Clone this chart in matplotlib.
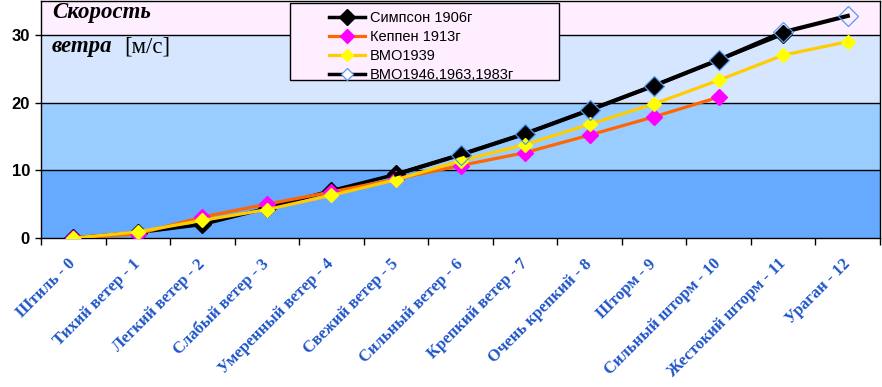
import matplotlib
matplotlib.use("Agg")
import matplotlib.pyplot as plt
from matplotlib.patches import Rectangle
import numpy as np

# --- данные ---
categories = ["Штиль - 0", "Тихий ветер - 1", "Легкий ветер - 2", "Слабый ветер - 3",
              "Умеренный ветер - 4", "Свежий ветер - 5", "Сильный ветер - 6",
              "Крепкий ветер - 7", "Очень крепкий - 8", "Шторм - 9",
              "Сильный шторм - 10", "Жестокий шторм - 11", "Ураган - 12"]

simpson_1906 = [0, 0.8, 2.0, 4.4, 7.0, 9.4, 12.3, 15.4, 18.9, 22.5, 26.3, 30.1]
keppen_1913 = [0, 0.6, 3.1, 5.0, 6.8, 8.7, 10.7, 12.6, 15.2, 17.9, 20.8]
bmo_1939 = [0, 0.9, 2.6, 4.2, 6.3, 8.6, 11.4, 13.8, 16.8, 19.8, 23.3, 27.0, 29.0]
# ВМО1946 совпадает с Симпсоном, на картинке видна с 5 балла
bmo_1946_start = 5
bmo_1946 = [9.4, 12.3, 15.4, 18.9, 22.5, 26.3, 30.4, 32.8]

bands = [(0, 10, "#66AAFF"), (10, 20, "#99CCFF"), (20, 30, "#D6E6FF"), (30, 35, "#FFEEFF")]

fig = plt.figure(figsize=(8.82, 3.87), dpi=100)
ax = fig.add_axes([41 / 882, 1 - 238 / 387, 839 / 882, 237 / 387])

for lo, hi, col in bands:
    ax.axhspan(lo, hi, color=col, zorder=0, lw=0)
for y in (10, 20, 30):
    ax.axhline(y, color="black", lw=1, zorder=1)

x = np.arange(len(categories))

h_simp, = ax.plot(x[:len(simpson_1906)], simpson_1906, color="black", lw=2.5, marker="D",
                  ms=9.5, mfc="black", mec="black", zorder=2)
h_kep, = ax.plot(x[:len(keppen_1913)], keppen_1913, color="#FF6600", lw=2.3, marker="D",
                 ms=8.5, mfc="#FF00FF", mec="#FF00FF", zorder=3)
h_39, = ax.plot(x[:len(bmo_1939)], bmo_1939, color="#FFCC00", lw=2.3, marker="D", ms=7,
                mfc="#FFFF00", mec="#FFFF00", zorder=4)
x46 = x[bmo_1946_start:bmo_1946_start + len(bmo_1946)]
ax.plot(x46, bmo_1946, color="black", lw=3, zorder=5)
ax.plot(x46[1:], bmo_1946[1:], ls="none", marker="D", ms=10, mfc="none",
        mec="#5599EE", mew=0.9, zorder=6)
h_46, = ax.plot([], [], color="black", lw=2.5, marker="D", ms=7, mfc="white",
                mec="#5599EE", mew=0.9)

ax.set_xlim(-0.5, len(categories) - 0.5)
ax.set_ylim(0, 35)
ax.set_yticks([0, 10, 20, 30])
ax.set_xticks(np.arange(len(categories) + 1) - 0.5)
ax.set_xticklabels([])
ax.set_xticks(x, minor=True)
ax.set_xticklabels(categories, minor=True, rotation=45, ha="right", va="center",
                   rotation_mode="anchor", color="#1F55C8", fontweight="bold",
                   family="Liberation Serif", fontsize=12)
ax.tick_params(axis="x", which="minor", length=0, pad=17)
ax.tick_params(axis="x", which="major", length=5, direction="out", width=1)
ax.tick_params(axis="y", length=4, direction="out", width=1, pad=4)
for lab in ax.get_yticklabels():
    lab.set_fontweight("bold")
    lab.set_fontsize(12)
    lab.set_family("Liberation Sans")
for sp in ax.spines.values():
    sp.set_linewidth(1)

serif_bi = dict(family="Liberation Serif", fontweight="bold", style="italic", fontsize=16.5)
fig.text(52 / 882, 1 - 2 / 387, "Скорость", ha="left", va="top", **serif_bi)
fig.text(52 / 882, 1 - 36 / 387, "ветра", ha="left", va="top", **serif_bi)
fig.text(124 / 882, 1 - 36 / 387, "[м/с]", ha="left", va="top",
         family="Liberation Serif", fontsize=16.5)

# рамка легенды
fig.patches.append(Rectangle((290 / 882, 1 - 80 / 387), 269 / 882, 77 / 387,
                             transform=fig.transFigure, facecolor="#FFEEFF",
                             edgecolor="black", lw=1, zorder=9))
leg = fig.legend([h_simp, h_kep, h_39, h_46],
                 ["Симпсон 1906г", "Кеппен 1913г", "ВМО1939", "ВМО1946,1963,1983г"],
                 loc="upper left", bbox_to_anchor=(320 / 882, 1 - 2 / 387),
                 prop={"family": "Liberation Sans", "size": 10.5}, frameon=False,
                 handlelength=2.5, borderpad=0.1, labelspacing=0.35,
                 handletextpad=0.3, markerscale=0.85)
leg.set_zorder(10)

fig.savefig("out.png", dpi=100)
